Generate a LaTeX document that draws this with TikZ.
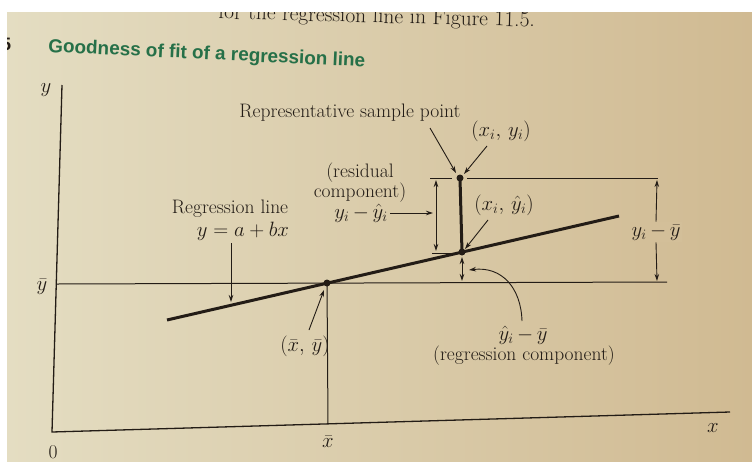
\documentclass[tikz,border=0pt]{standalone}
\usepackage{fontspec}
\newfontfamily\titlefont{Liberation Sans}
\usetikzlibrary{arrows.meta}
\definecolor{ink}{RGB}{35,28,22}
\definecolor{paperL}{RGB}{228,221,194}
\definecolor{paperR}{RGB}{208,186,146}
\definecolor{titlegreen}{RGB}{38,112,72}
\begin{document}
\begin{tikzpicture}[x=1pt,y=-1pt,
 lbl/.style={text=ink,font=\fontsize{19.5}{20}\selectfont,inner sep=0pt},
 ax/.style={draw=ink,line width=1.3pt},
 thinln/.style={draw=ink,line width=1pt},
 heavy/.style={draw=ink,line width=3pt},
 arr/.style={draw=ink,line width=0.9pt,-{Stealth[length=7pt,width=4.5pt]}},
 darr/.style={draw=ink,line width=0.9pt,{Stealth[length=7pt,width=4.5pt]}-{Stealth[length=7pt,width=4.5pt]}},
 dot/.style={circle,fill=ink,inner sep=0pt,minimum size=7pt}]
\useasboundingbox (0,0) rectangle (752,461);
\fill[white] (0,0) rectangle (752,461);
\shade[left color=paperL,right color=paperR] (7,12) rectangle (752,461);
\begin{scope}
\clip (7,12) rectangle (752,461);
\node[lbl,font=\fontsize{21.5}{23}\selectfont,anchor=base east,rotate=-1.5] (top) at (535,27) {for the regression line in Figure 11.5.};
\node[anchor=base west,text=ink,font=\titlefont\bfseries\fontsize{18}{20}\selectfont,inner sep=0pt] (five) at (1,50) {5};
\end{scope}
\node[anchor=base west,rotate=-2.7,text=titlegreen,font=\titlefont\bfseries\fontsize{18.9}{21}\selectfont,inner sep=0pt] (title) at (48,52) {Goodness of fit of a regression line};
% axes
\coordinate (O) at (52,432);
\coordinate (Ytop) at (62,85);
\coordinate (Xend) at (730,412);
\draw[ax] (Ytop) -- (O) -- (Xend);
\node[lbl] (ylab) at (46,90) {$y$};
\node[lbl] (zero) at (53,452) {0};
\node[lbl] (xlab) at (713,428) {$x$};
\node[lbl] (yblab) at (42,287) {$\bar{y}$};
% mean line
\coordinate (YbL) at (57,284);
\coordinate (YbR) at (667,282);
\draw[thinln] (YbL) -- (YbR);
% regression line
\coordinate (R1) at (167,320);
\coordinate (R2) at (619,216);
\draw[heavy] (R1) -- (R2);
\coordinate (M) at (327,283);
\coordinate (Xb) at (328,424);
\draw[thinln] (M) -- (Xb);
\node[lbl] (xblab) at (328,442) {$\bar{x}$};
% sample point
\coordinate (P) at (462,252);
\coordinate (S) at (460,178);
\draw[heavy] (S) -- (P);
\node[dot] (Mdot) at (M) {};
\node[dot] (Sdot) at (S) {};
\node[dot] (Pdot) at (P) {};
% horizontal guides
\coordinate (T1) at (467,178);
\coordinate (T2) at (658,178);
\draw[thinln] (T1) -- (T2);
\coordinate (TL1) at (430,178);
\coordinate (TL2) at (452,178);
\draw[thinln] (TL1) -- (TL2);
\coordinate (BL1) at (432,253);
\coordinate (BL2) at (457,253);
\draw[thinln] (BL1) -- (BL2);
% residual double arrow
\coordinate (RA1) at (436,180);
\coordinate (RA2) at (436,251);
\draw[darr] (RA1) -- (RA2);
% total deviation
\node[lbl,fill=paperR!85!paperL,inner sep=2pt] (tot) at (656,232) {$y_i\,{-}\,\bar{y}$};
\coordinate (TA1) at (657,180);
\coordinate (TA2) at (657,281);
\draw[arr] (tot.north) -- (TA1);
\draw[arr] (tot.south) -- (TA2);
% regression component arrow
\coordinate (GA1) at (462,257);
\coordinate (GA2) at (462,281);
\draw[darr] (GA1) -- (GA2);
% labels
\node[lbl] (rep) at (350,113) {Representative sample point};
\coordinate (repA) at (430,128);
\coordinate (repB) at (456,173);
\draw[arr] (repA) -- (repB);
\node[lbl] (xiyi) at (501,131) {$(x_i,\,y_i)$};
\coordinate (xyA) at (487,146);
\coordinate (xyB) at (464,174);
\draw[arr] (xyA) -- (xyB);
\node[lbl] (xiyh) at (504,205) {$(x_i,\,\hat{y}_i)$};
\coordinate (xhA) at (488,220);
\coordinate (xhB) at (465,249);
\draw[arr] (xhA) -- (xhB);
\node[lbl,align=center] (res) at (360,183) {(residual\\component)};
\node[lbl] (resf) at (361,213) {$y_i\,{-}\,\hat{y}_i$};
\coordinate (resB) at (433,213);
\draw[arr] ([xshift=2pt]resf.east) -- (resB);
\node[lbl] (rl) at (230,209) {Regression line};
\node[lbl] (rleq) at (243,231) {$y = a + bx$};
\coordinate (rlA) at (231,243);
\coordinate (rlB) at (231,302);
\draw[arr] (rlA) -- (rlB);
\node[lbl] (mlab) at (305,346) {$(\bar{x},\,\bar{y})$};
\coordinate (mA) at (309,330);
\coordinate (mB) at (324,290);
\draw[arr] (mA) -- (mB);
\node[lbl] (reg1) at (523,335) {$\hat{y}_i\,{-}\,\bar{y}$};
\node[lbl] (reg2) at (524,356) {(regression component)};
\coordinate (cA) at (522,321);
\coordinate (cB) at (469,270);
\draw[arr] (cA) .. controls (521,288) and (502,266) .. (cB);
\end{tikzpicture}
\end{document}
